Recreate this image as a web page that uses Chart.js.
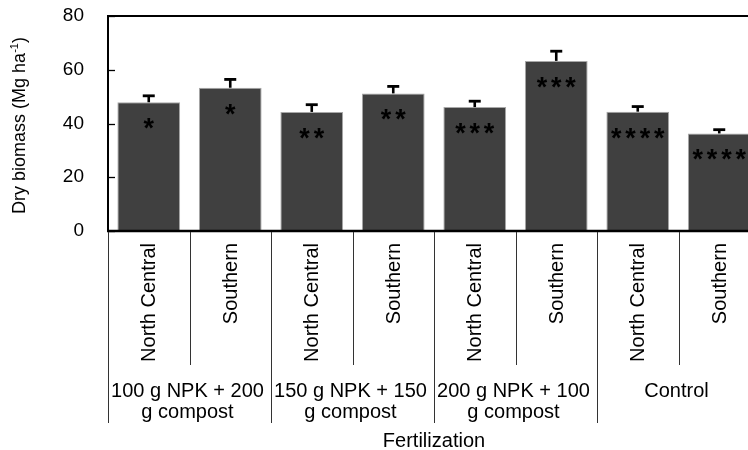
<!DOCTYPE html>
<html><head><meta charset="utf-8">
<style>html,body{margin:0;padding:0;overflow:hidden;background:#fff}canvas{display:block}</style>
<script src="https://cdn.jsdelivr.net/npm/chart.js@4/dist/chart.umd.min.js"></script>
</head><body>
<canvas id="c" width="762" height="450" style="width:762px;height:450px"></canvas>
<script>
const categories = ['North Central', 'Southern', 'North Central', 'Southern', 'North Central', 'Southern', 'North Central', 'Southern'];
const groups = [['100 g NPK + 200', 'g compost'], ['150 g NPK + 150', 'g compost'], ['200 g NPK + 100', 'g compost'], ['Control']];
const biomass = [47.9, 53.3, 44.3, 51.2, 46.1, 63.3, 44.4, 36.3];
const errors = [2.4, 3.1, 2.7, 2.6, 2.2, 3.6, 1.9, 1.4];
const significance = ['*', '*', '**', '**', '***', '***', '****', '****'];
const yTicks = [0, 20, 40, 60, 80];
const xTitle = 'Fertilization';
const yTitle = ['Dry biomass (Mg ha', '-1', ')'];

const FONT = "'Liberation Sans', Arial, sans-serif";

const drawPlugin = {
  id: 'drawPlugin',
  afterDatasetsDraw(chart) {
    const ctx = chart.ctx;
    const y = chart.scales.y;
    const meta = chart.getDatasetMeta(0);
    ctx.save();
    ctx.strokeStyle = '#000';
    meta.data.forEach((el, i) => {
      const top = y.getPixelForValue(biomass[i] + errors[i]);
      ctx.lineWidth = 2.6;
      ctx.beginPath(); ctx.moveTo(el.x, el.y); ctx.lineTo(el.x, top); ctx.stroke();
      ctx.lineWidth = 2.8;
      ctx.beginPath(); ctx.moveTo(el.x - 6, top); ctx.lineTo(el.x + 6, top); ctx.stroke();
    });
    ctx.fillStyle = '#000';
    ctx.font = 'bold 100px ' + FONT;
    const m0 = ctx.measureText('*');
    const gw = m0.actualBoundingBoxLeft + m0.actualBoundingBoxRight;
    const size = 100 * 10.5 / gw;
    ctx.font = 'bold ' + size.toFixed(2) + 'px ' + FONT;
    ctx.textAlign = 'center';
    ctx.textBaseline = 'alphabetic';
    const m = ctx.measureText('*');
    const off = (m.actualBoundingBoxAscent - m.actualBoundingBoxDescent) / 2;
    meta.data.forEach((el, i) => {
      const s = significance[i];
      const n = s.length;
      const sp = 14.3;
      const yc = el.y + 21.5;
      for (let k = 0; k < n; k++) {
        const xc = el.x + (k - (n - 1) / 2) * sp;
        ctx.fillText('*', xc, yc + off);
      }
    });
    ctx.restore();
  },
  afterDraw(chart) {
    const ctx = chart.ctx;
    const a = chart.chartArea;
    const x = chart.scales.x;
    const y = chart.scales.y;
    ctx.save();
    ctx.strokeStyle = '#000';
    ctx.lineWidth = 1.3;
    yTicks.forEach(v => {
      const yp = Math.round(y.getPixelForValue(v)) + 0.5;
      ctx.beginPath(); ctx.moveTo(a.left, yp); ctx.lineTo(a.left + 7, yp); ctx.stroke();
    });
    ctx.lineWidth = 2;
    ctx.beginPath(); ctx.moveTo(a.left, a.top); ctx.lineTo(a.left, a.bottom); ctx.stroke();
    ctx.beginPath(); ctx.moveTo(a.left - 1, a.top); ctx.lineTo(a.right, a.top); ctx.stroke();
    ctx.lineWidth = 2.4;
    ctx.beginPath(); ctx.moveTo(a.left - 1, a.bottom); ctx.lineTo(a.right, a.bottom); ctx.stroke();
    const n = categories.length;
    const bounds = [];
    for (let i = 0; i <= n; i++) {
      if (i === 0) bounds.push(a.left);
      else if (i === n) bounds.push(a.right);
      else bounds.push((x.getPixelForValue(i - 1) + x.getPixelForValue(i)) / 2);
    }
    ctx.lineWidth = 1;
    ctx.strokeStyle = '#333';
    bounds.forEach((bx, i) => {
      const xb = Math.round(bx) + 0.5;
      const yEnd = (i % 2 === 0) ? 423 : 365;
      ctx.beginPath(); ctx.moveTo(xb, a.bottom + 1); ctx.lineTo(xb, yEnd); ctx.stroke();
    });
    ctx.fillStyle = '#000';
    ctx.font = '20px ' + FONT;
    categories.forEach((c, i) => {
      const cx = x.getPixelForValue(i);
      ctx.save();
      ctx.translate(cx, 243);
      ctx.rotate(-Math.PI / 2);
      ctx.textAlign = 'right';
      ctx.textBaseline = 'middle';
      ctx.fillText(c, 0, 1);
      ctx.restore();
    });
    ctx.textAlign = 'center';
    ctx.textBaseline = 'alphabetic';
    groups.forEach((g, gi) => {
      const cx = (bounds[gi * 2] + bounds[gi * 2 + 2]) / 2;
      g.forEach((line, li) => {
        ctx.fillText(line, cx - 2, 397 + li * 21);
      });
    });
    ctx.fillText(xTitle, (a.left + a.right) / 2, 447);
    ctx.save();
    const cy = (a.top + a.bottom) / 2 + 2;
    ctx.translate(25, cy);
    ctx.rotate(-Math.PI / 2);
    ctx.textAlign = 'left';
    ctx.textBaseline = 'alphabetic';
    const mainF = '18px ' + FONT, supF = '11px ' + FONT;
    ctx.font = mainF; const w1 = ctx.measureText(yTitle[0]).width; const w3 = ctx.measureText(yTitle[2]).width;
    ctx.font = supF; const w2 = ctx.measureText(yTitle[1]).width;
    let sx = -(w1 + w2 + w3) / 2;
    ctx.font = mainF; ctx.fillText(yTitle[0], sx, 0); sx += w1;
    ctx.font = supF; ctx.fillText(yTitle[1], sx, -7); sx += w2;
    ctx.font = mainF; ctx.fillText(yTitle[2], sx, 0);
    ctx.restore();
    ctx.restore();
  }
};

new Chart(document.getElementById('c'), {
  type: 'bar',
  data: {
    labels: categories.map((c, i) => c + ' ' + i),
    datasets: [{
      data: biomass,
      backgroundColor: '#404040',
      borderColor: '#a8a8a8',
      borderWidth: 1,
      barPercentage: 0.77,
      categoryPercentage: 1.0
    }]
  },
  options: {
    responsive: false,
    animation: false,
    devicePixelRatio: 1,
    layout: { padding: { top: 16, right: 2, left: 0, bottom: 0 } },
    plugins: { legend: { display: false }, tooltip: { enabled: false } },
    scales: {
      x: {
        grid: { display: false, drawTicks: false },
        border: { display: false },
        ticks: { display: false },
        afterFit(scale) { scale.height = 219; scale.paddingLeft = 0; scale.paddingRight = 0; }
      },
      y: {
        min: 0, max: 80,
        grid: { display: false, drawTicks: false },
        border: { display: false },
        ticks: {
          stepSize: 20,
          padding: 24,
          color: '#000',
          font: { family: FONT, size: 19 },
          callback: (v) => yTicks.includes(v) ? String(v) : ''
        },
        afterFit(scale) { scale.width = 108; scale.paddingTop = 0; scale.paddingBottom = 0; }
      }
    }
  },
  plugins: [drawPlugin]
});
</script>
</body></html>
